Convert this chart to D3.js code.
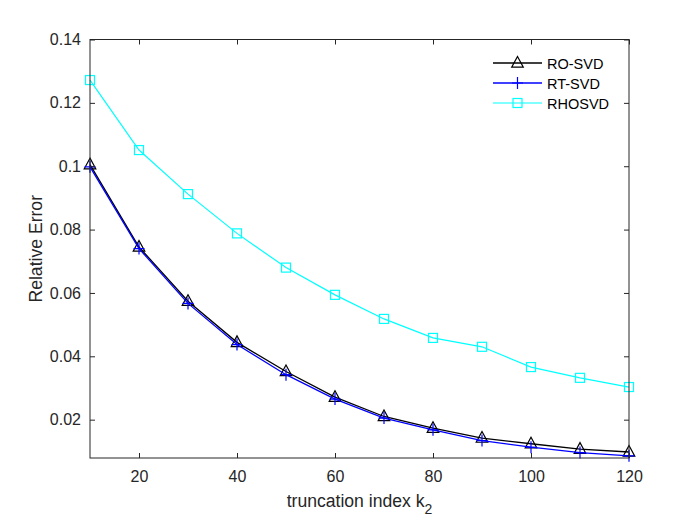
<!DOCTYPE html>
<html>
<head>
<meta charset="utf-8">
<script src="https://cdn.jsdelivr.net/npm/d3@7"></script>
<style>
  body { margin: 0; background: #fff; }
  svg { font-family: "Liberation Sans", Arial, sans-serif; }
</style>
</head>
<body>
<svg id="chart" width="695" height="520"></svg>
<script>
var truncIndex = [10, 20, 30, 40, 50, 60, 70, 80, 90, 100, 110, 120];
var roSvd  = [0.1005, 0.0745, 0.0574, 0.0444, 0.0352, 0.0271, 0.0210, 0.0173, 0.0142, 0.0124, 0.0107, 0.0098];
var rtSvd  = [0.0998, 0.0740, 0.0567, 0.0437, 0.0342, 0.0265, 0.0205, 0.0168, 0.0134, 0.0113, 0.0096, 0.0086];
var rhosvd = [0.1272, 0.1051, 0.0912, 0.0788, 0.0680, 0.0594, 0.0518, 0.0458, 0.0430, 0.0366, 0.0332, 0.0303];
var xTicks = [20, 40, 60, 80, 100, 120];
var yTicks = [0.02, 0.04, 0.06, 0.08, 0.1, 0.12, 0.14];
var seriesNames = ["RO-SVD", "RT-SVD", "RHOSVD"];

var svg = d3.select("#chart");
var margin = {top: 39.5, right: 66, bottom: 62, left: 90};
var width = 695 - margin.left - margin.right;
var height = 520 - margin.top - margin.bottom;
var axisColor = "#262626";

var x = d3.scaleLinear().domain([10, 120]).range([0, width]);
var y = d3.scaleLinear().domain([0.0079, 0.14]).range([height, 0]);

var root = svg.append("g")
    .attr("transform", "translate(" + margin.left + "," + margin.top + ")");

var series = [
    {name: seriesNames[0], values: roSvd, color: "#000000", marker: "tri", width: 1.3},
    {name: seriesNames[1], values: rtSvd, color: "#0000ff", marker: "plus", width: 1.3},
    {name: seriesNames[2], values: rhosvd, color: "#00ffff", marker: "square", width: 1.2}
];

function drawMarker(g, type, color) {
    if (type === "tri") {
        g.append("path").attr("d", "M0,-6.5L5.8,4.2L-5.8,4.2Z")
            .attr("fill", "none").attr("stroke", color).attr("stroke-width", 1.2);
    } else if (type === "plus") {
        g.append("path").attr("d", "M-5.5,0H5.5M0,-6V6")
            .attr("fill", "none").attr("stroke", color).attr("stroke-width", 1.2);
    } else {
        g.append("rect").attr("x", -4.5).attr("y", -4.5).attr("width", 9).attr("height", 9)
            .attr("fill", "none").attr("stroke", color).attr("stroke-width", 1.2);
    }
}

var line = d3.line()
    .x(function (d, i) { return x(truncIndex[i]); })
    .y(function (d) { return y(d); });

series.forEach(function (s) {
    root.append("path")
        .datum(s.values)
        .attr("d", line)
        .attr("fill", "none")
        .attr("stroke", s.color)
        .attr("stroke-width", s.width);
    s.values.forEach(function (v, i) {
        var g = root.append("g")
            .attr("transform", "translate(" + x(truncIndex[i]) + "," + y(v) + ")");
        drawMarker(g, s.marker, s.color);
    });
});

// axes, MATLAB style box with inward ticks
function styleAxis(g, hideText) {
    g.selectAll(".domain").remove();
    g.selectAll("line").attr("stroke", axisColor).attr("stroke-width", 1);
    g.selectAll("text").attr("fill", axisColor).style("font-size", "16px");
    if (hideText) g.selectAll("text").remove();
}

root.append("g")
    .attr("transform", "translate(0," + height + ")")
    .call(d3.axisBottom(x).tickValues(xTicks).tickSizeInner(-5).tickSizeOuter(0).tickPadding(13))
    .call(styleAxis, false);
root.append("g")
    .call(d3.axisTop(x).tickValues(xTicks).tickSizeInner(-5).tickSizeOuter(0))
    .call(styleAxis, true);
root.append("g")
    .call(d3.axisLeft(y).tickValues(yTicks).tickFormat(d3.format("")).tickSizeInner(-5).tickSizeOuter(0).tickPadding(9))
    .call(styleAxis, false);
root.append("g")
    .attr("transform", "translate(" + width + ",0)")
    .call(d3.axisRight(y).tickValues(yTicks).tickSizeInner(-5).tickSizeOuter(0))
    .call(styleAxis, true);

root.append("rect")
    .attr("width", width).attr("height", height)
    .attr("fill", "none").attr("stroke", axisColor).attr("stroke-width", 1);

// labels
var xl = root.append("text")
    .attr("x", width / 2).attr("y", height + 49)
    .attr("text-anchor", "middle")
    .attr("fill", axisColor)
    .style("font-size", "17.6px");
xl.append("tspan").text("truncation index k");
xl.append("tspan").attr("dy", 7).style("font-size", "14px").text("2");

root.append("text")
    .attr("transform", "translate(" + (-48) + "," + (height / 2) + ") rotate(-90)")
    .attr("text-anchor", "middle")
    .attr("fill", axisColor)
    .style("font-size", "17.6px")
    .text("Relative Error");

// legend
var legend = root.append("g")
    .attr("transform", "translate(" + (493 - margin.left) + "," + (63 - margin.top) + ")");
series.forEach(function (s, i) {
    var row = legend.append("g").attr("transform", "translate(0," + (i * 20) + ")");
    row.append("line").attr("x1", 0).attr("x2", 49).attr("y1", 0).attr("y2", 0)
        .attr("stroke", s.color).attr("stroke-width", s.width);
    var m = row.append("g").attr("transform", "translate(24.5,0)");
    drawMarker(m, s.marker, s.color);
    row.append("text").attr("x", 54).attr("y", 5.5)
        .attr("fill", "#000")
        .style("font-size", "14.5px")
        .text(s.name);
});
</script>
</body>
</html>
